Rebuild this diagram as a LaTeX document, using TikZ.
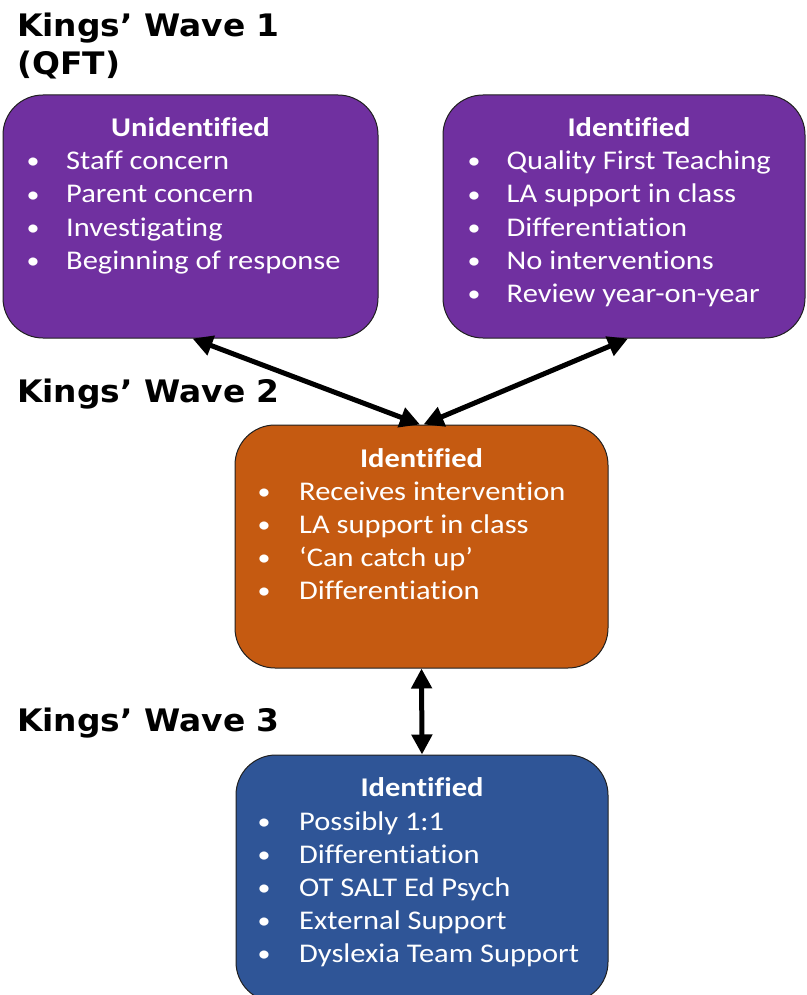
\documentclass[tikz,border=0pt]{standalone}
\usepackage{fontspec}
\setmainfont{Carlito}[FakeStretch=1.13, Ligatures={NoCommon}]
\newfontfamily\headfont{DejaVu Sans}[FakeStretch=1.06]
\usetikzlibrary{arrows.meta}
\definecolor{wpurple}{HTML}{7030A0}
\definecolor{worange}{HTML}{C55A11}
\definecolor{wblue}{HTML}{2F5597}
\definecolor{wline}{HTML}{202020}
\tikzset{
  box/.style={draw=wline, line width=1pt, rounded corners=40pt, inner sep=0pt},
  heading/.style={anchor=base west, inner sep=0pt, font=\headfont\bfseries\fontsize{31}{38}\selectfont, text=black},
  boxtitle/.style={anchor=base, inner sep=0pt, font=\bfseries\fontsize{27}{32}\selectfont, text=white},
  bul/.style={anchor=base, inner sep=0pt, font=\fontsize{23}{28}\selectfont, text=white},
  item/.style={anchor=base west, inner sep=0pt, font=\fontsize{27}{32}\selectfont, text=white},
  conn/.style={{Triangle[length=20pt,width=20pt]}-{Triangle[length=20pt,width=20pt]}, line width=5pt, draw=black},
}
\begin{document}
\begin{tikzpicture}[x=1pt,y=-1pt]
\useasboundingbox (0,0) rectangle (806,995);
% headings
\node[heading] (h1) at (17,36.5) {Kings’ Wave 1};
\node[heading] (h1b) at (17,75) {(QFT)};
\node[heading] (h2) at (17,402) {Kings’ Wave 2};
\node[heading] (h3) at (17,731) {Kings’ Wave 3};
% boxes
\node[box, fill=wpurple, minimum width=375pt, minimum height=243pt] (uni) at (190.5,216.5) {};
\node[box, fill=wpurple, minimum width=362pt, minimum height=243pt] (ide) at (624,216.5) {};
\node[box, fill=worange, minimum width=373pt, minimum height=243pt] (ora) at (421.5,546.5) {};
\node[box, fill=wblue, minimum width=372pt, minimum height=247pt] (blu) at (422,878.5) {};
% unidentified
\node[boxtitle] (ut) at (190.5,137) {Unidentified};
\node[bul] (ub1) at (33,169) {•}; \node[item] (ui1) at (66,170) {Staff concern};
\node[bul] (ub2) at (33,202) {•}; \node[item] (ui2) at (66,203) {Parent concern};
\node[bul] (ub3) at (33,235) {•}; \node[item] (ui3) at (66,236) {Investigating};
\node[bul] (ub4) at (33,268) {•}; \node[item] (ui4) at (66,269) {Beginning of response};
% identified wave 1
\node[boxtitle] (it) at (629,137) {Identified};
\node[bul] (ib1) at (474,169) {•}; \node[item] (ii1) at (506.5,170) {Quality First Teaching};
\node[bul] (ib2) at (474,202) {•}; \node[item] (ii2) at (506.5,203) {LA support in class};
\node[bul] (ib3) at (474,235) {•}; \node[item] (ii3) at (506.5,236) {Differentiation};
\node[bul] (ib4) at (474,268) {•}; \node[item] (ii4) at (506.5,269) {No interventions};
\node[bul] (ib5) at (474,301) {•}; \node[item] (ii5) at (506.5,302) {Review year-on-year};
% wave 2
\node[boxtitle] (ot) at (421.5,467) {Identified};
\node[bul] (ob1) at (264,499) {•}; \node[item] (oi1) at (299,500) {Receives intervention};
\node[bul] (ob2) at (264,532) {•}; \node[item] (oi2) at (299,533) {LA support in class};
\node[bul] (ob3) at (264,565) {•}; \node[item] (oi3) at (299,566) {‘Can catch up’};
\node[bul] (ob4) at (264,598) {•}; \node[item] (oi4) at (299,599) {Differentiation};
% wave 3
\node[boxtitle] (bt) at (422,796) {Identified};
\node[bul] (bb1) at (264,829) {•}; \node[item] (bi1) at (299,830) {Possibly 1:1};
\node[bul] (bb2) at (264,862) {•}; \node[item] (bi2) at (299,863) {Differentiation};
\node[bul] (bb3) at (264,895) {•}; \node[item] (bi3) at (299,896) {OT SALT Ed Psych};
\node[bul] (bb4) at (264,928) {•}; \node[item] (bi4) at (299,929) {External Support};
\node[bul] (bb5) at (264,961) {•}; \node[item] (bi5) at (299,962) {Dyslexia Team Support};
% connectors
\draw[conn] ([xshift=2pt]uni.south) -- ([xshift=-1.5pt]ora.north);
\draw[conn] ([xshift=4pt]ide.south) -- ([xshift=2pt]ora.north);
\draw[conn] (ora.south) -- (blu.north);
\end{tikzpicture}
\end{document}
